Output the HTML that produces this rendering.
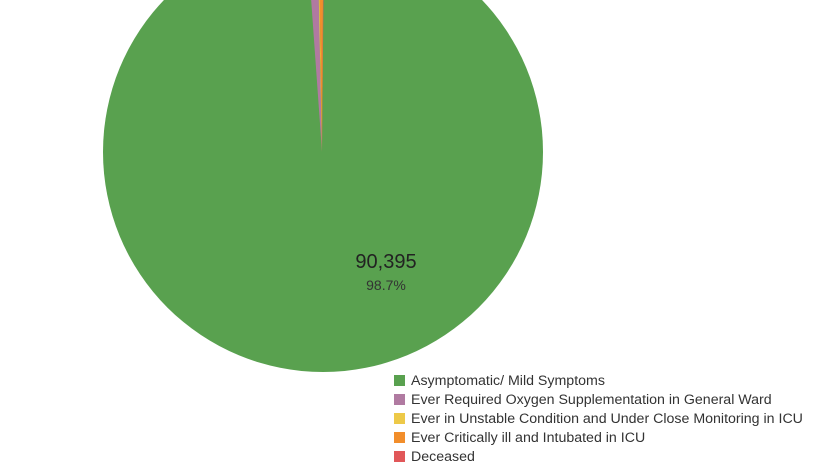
<!DOCTYPE html>
<html><head><style>
body{margin:0;background:#fff;width:830px;height:468px;overflow:hidden;font-family:"Liberation Sans",sans-serif}
.lg{position:absolute;left:394px;font-size:14.2px;color:#333;line-height:14px;white-space:nowrap}
.lg span{display:inline-block;width:11px;height:11px;margin-right:6px;vertical-align:-1px}
</style></head><body>
<svg width="830" height="468" style="position:absolute;left:0;top:0">
<circle cx="323" cy="152" r="220" fill="#59a14f"/>
<polygon points="322,152 305.6,-78 317.2,-78" fill="#b07aa1"/>
<polygon points="322,152 317.2,-78 318.5,-78" fill="#edc948"/>
<polygon points="322,152 318.5,-78 323.5,-78" fill="#f28e2b"/>
<polygon points="322,152 323.5,-78 324.2,-78" fill="#e15759"/>
<text x="386" y="268" font-size="20" text-anchor="middle" fill="#222" font-family="Liberation Sans">90,395</text>
<text x="386" y="290" font-size="14" text-anchor="middle" fill="#333" font-family="Liberation Sans">98.7%</text>
</svg>
<div class="lg" style="top:374px"><span style="background:#59a14f"></span>Asymptomatic/ Mild Symptoms</div>
<div class="lg" style="top:393px"><span style="background:#b07aa1"></span>Ever Required Oxygen Supplementation in General Ward</div>
<div class="lg" style="top:412px"><span style="background:#edc948"></span>Ever in Unstable Condition and Under Close Monitoring in ICU</div>
<div class="lg" style="top:431px"><span style="background:#f28e2b"></span>Ever Critically ill and Intubated in ICU</div>
<div class="lg" style="top:450px"><span style="background:#e15759"></span>Deceased</div>
</body></html>
